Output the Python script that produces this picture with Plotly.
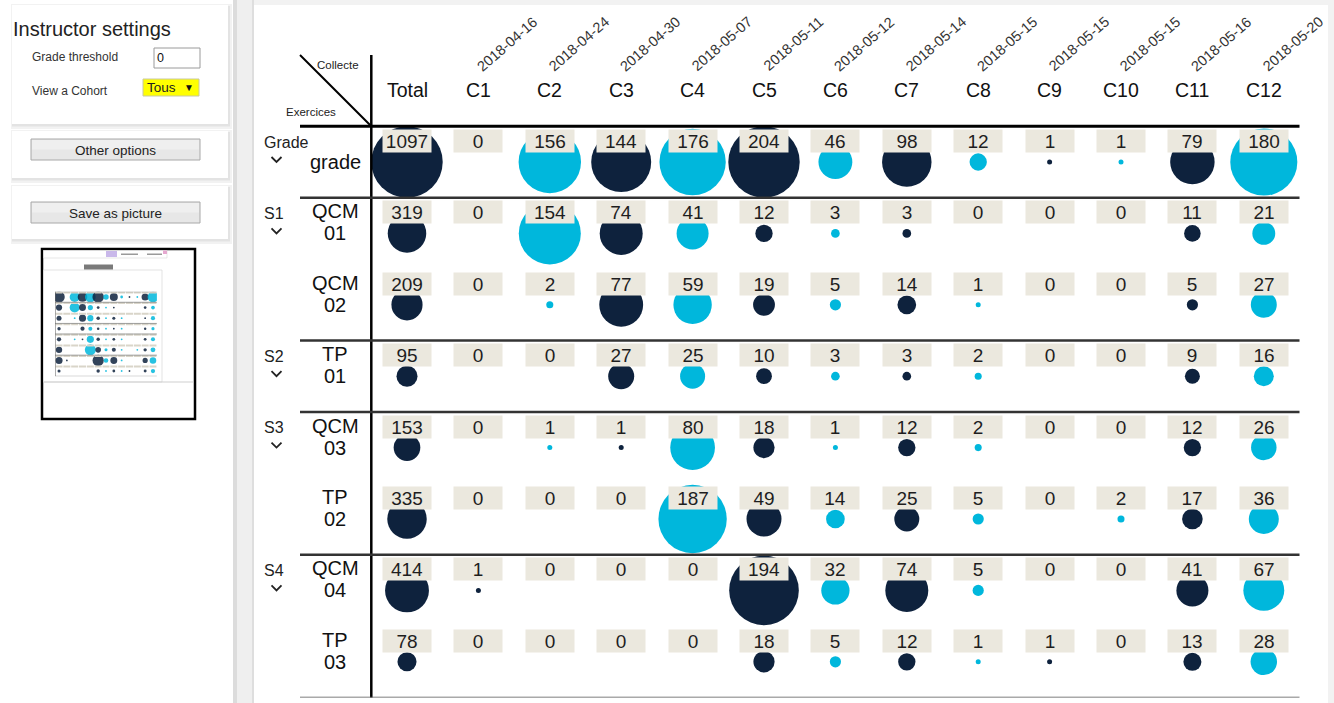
import math
import plotly.graph_objects as go

W, H = 1334, 703
FONT = "Liberation Sans"

# ---------------- data ----------------
columns = ["Total", "C1", "C2", "C3", "C4", "C5", "C6", "C7", "C8", "C9", "C10", "C11", "C12"]
dates = ["", "2018-04-16", "2018-04-24", "2018-04-30", "2018-05-07", "2018-05-11", "2018-05-12",
         "2018-05-14", "2018-05-15", "2018-05-15", "2018-05-15", "2018-05-16", "2018-05-20"]
row_keys = ["grade", "QCM01", "QCM02", "TP01", "QCM03", "TP02", "QCM04", "TP03"]
row_line1 = ["grade", "QCM", "QCM", "TP", "QCM", "TP", "QCM", "TP"]
row_line2 = ["", "01", "02", "01", "03", "02", "04", "03"]
group_labels = ["Grade", "S1", "", "S2", "S3", "", "S4", ""]

total = [1097, 319, 209, 95, 153, 335, 414, 78]
c1 = [0, 0, 0, 0, 0, 0, 1, 0]
c2 = [156, 154, 2, 0, 1, 0, 0, 0]
c3 = [144, 74, 77, 27, 1, 0, 0, 0]
c4 = [176, 41, 59, 25, 80, 187, 0, 0]
c5 = [204, 12, 19, 10, 18, 49, 194, 18]
c6 = [46, 3, 5, 3, 1, 14, 32, 5]
c7 = [98, 3, 14, 3, 12, 25, 74, 12]
c8 = [12, 0, 1, 2, 2, 5, 5, 1]
c9 = [1, 0, 0, 0, 0, 0, 0, 1]
c10 = [1, 0, 0, 0, 0, 2, 0, 0]
c11 = [79, 11, 5, 9, 12, 17, 41, 13]
c12 = [180, 21, 27, 16, 26, 36, 67, 28]
series = [total, c1, c2, c3, c4, c5, c6, c7, c8, c9, c10, c11, c12]

# ---------------- styling / layout constants ----------------
DARK = "#0e223d"
LIGHT = "#00b7dc"
LABEL_BG = "#ebe8de"
TXT = "#1e1e1e"

COL_X0, COL_W = 371.3, 71.4     # pixel grid of main bubble table
ROW_Y0, ROW_H = 126.3, 71.4
MAXD = 71.4                     # max bubble diameter

def px(xp):
    return xp / W

def py(yp):
    return 1 - yp / H

def row_center(i):
    return ROW_Y0 + (i + 0.5) * ROW_H

fig = go.Figure()

# bubbles (main table)
vmax_total = max(total)
vmax_c = max(max(s) for s in series[1:])
bx, by, bs, bc = [], [], [], []
for ci, (col, vals) in enumerate(zip(columns, series)):
    vmax = vmax_total if ci == 0 else vmax_c
    color = DARK if (ci == 0 or ci % 2 == 1) else LIGHT
    for ri, v in enumerate(vals):
        bx.append(col)
        by.append(row_keys[ri])
        bs.append(MAXD * math.sqrt(v / vmax) if v > 0 else 0)
        bc.append(color)

fig.add_trace(go.Scatter(
    x=bx, y=by, mode="markers", xaxis="x2", yaxis="y2",
    marker=dict(size=bs, sizemode="diameter", color=bc, line=dict(width=0), opacity=1),
    hoverinfo="skip", showlegend=False))

# mini thumbnail bubbles
mx, my, ms, mc = [], [], [], []
for ci, vals in enumerate(series):
    vmax = vmax_total if ci == 0 else vmax_c
    color = DARK if (ci == 0 or ci % 2 == 1) else LIGHT
    for ri, v in enumerate(vals):
        if v > 0:
            mx.append(ci)
            my.append(ri)
            ms.append(max(1.8, 11.5 * math.sqrt(v / vmax)))
            mc.append(color)
fig.add_trace(go.Scatter(
    x=mx, y=my, mode="markers", xaxis="x3", yaxis="y3",
    marker=dict(size=ms, sizemode="diameter", color=mc, line=dict(width=0), opacity=0.85),
    hoverinfo="skip", showlegend=False))
# mini value-label marks
lx, ly = [], []
for ci, vals in enumerate(series):
    for ri, v in enumerate(vals):
        lx.append(ci)
        ly.append(ri - 0.42)
fig.add_trace(go.Scatter(
    x=lx, y=ly, mode="markers", xaxis="x3", yaxis="y3",
    marker=dict(symbol="line-ew", size=5, line=dict(width=2, color="#d9d5c9")),
    hoverinfo="skip", showlegend=False))

shapes = []
ann = []

def rect(x0, y0, x1, y1, fill, line=None, lw=0, layer="below"):
    shapes.append(dict(type="rect", xref="x", yref="y", x0=x0, y0=y0, x1=x1, y1=y1,
                       fillcolor=fill, line=dict(color=line or fill, width=lw), layer=layer))

def line(x0, y0, x1, y1, color, width, layer="above", xref="x", yref="y"):
    shapes.append(dict(type="line", xref=xref, yref=yref, x0=x0, y0=y0, x1=x1, y1=y1,
                       line=dict(color=color, width=width), layer=layer))

def text(x, y, s, size, color=TXT, xanchor="center", **kw):
    ann.append(dict(xref="paper", yref="paper", x=px(x), y=py(y), text=s, showarrow=False,
                    xanchor=xanchor, yanchor="middle", font=dict(size=size, color=color, family=FONT), **kw))

# ---------- page background pieces ----------
rect(233, 0, 237, H, "#dcdcdc")
rect(237, 0, 252, H, "#efefef")
rect(252, 0, 254, H, "#dedede")
rect(254, 0, W, 5, "#f2f2f2")
rect(1328, 0, W, H, "#f2f2f2")

# ---------- left panels ----------
for (x0, y0, x1, y1) in [(12, 5, 228, 124), (12, 131, 228, 178), (12, 186, 228, 239)]:
    rect(x0 - 1, y0 - 1, x1 + 4, y1 + 5, "#f2f2f2")
    rect(x0, y0 + 1, x1 + 2, y1 + 2.5, "#e3e3e3")
    rect(x0, y0, x1, y1, "#ffffff")

text(11, 29, "Instructor settings", 20, "#222222", xanchor="left")
text(30, 57, "Grade threshold", 12, "#333333", xanchor="left")
rect(154, 48, 200, 68, "#ffffff", "#9a9a9a", 1)
text(155, 58, "0", 12.5, "#111111", xanchor="left")
text(30, 91, "View a Cohort", 12, "#333333", xanchor="left")
rect(143, 79, 199, 96, "#ffff00", "#c9c9a0", 1)
text(145, 87.5, "Tous", 13.5, "#222222", xanchor="left")
text(189, 87, "▼", 10, "#111111")

for (y0, y1, label) in [(139, 160, "Other options"), (202, 223, "Save as picture")]:
    rect(31, y0, 200, y1, "#e7e7e7", "#a8a8a8", 1)
    rect(32, y0 + 1, 199, (y0 + y1) / 2, "#efefef")
    text(115.5, (y0 + y1) / 2 + 0.5, label, 13.5, "#222222")

# ---------- thumbnail ----------
rect(42, 249, 195, 419, "#ffffff", "#000000", 2.5)
rect(43.5, 250.5, 167, 258, "#ffffff", "#d6d6d6", 0.6)
rect(106, 251, 117, 257, "#c9b8ea")
rect(121, 253.5, 138, 255, "#9a9a9a")
rect(147, 253.5, 162, 255, "#9a9a9a")
rect(163, 250.5, 167, 254, "#e6a8d0")
rect(43.5, 270, 162, 382, "#ffffff", "#dcdcdc", 0.8)
line(43.5, 382, 193.5, 382, "#cfcfcf", 1, layer="below")
rect(84, 264.5, 113, 269.5, "#7a7a7a")
for yv in [-0.5, 0.5, 2.5, 3.5, 5.5, 7.5]:
    line(-1.5, yv, 12.5, yv, "#8a8a8a", 0.8, layer="above", xref="x3", yref="y3")
line(-0.5, -1.6, -0.5, 7.5, "#555555", 0.9, layer="above", xref="x3", yref="y3")
line(-1.5, -1.6, -0.5, -0.5, "#777777", 0.6, layer="above", xref="x3", yref="y3")
for ci in range(len(columns)):
    line(ci - 0.25, -0.95, ci + 0.25, -0.95, "#666666", 1, layer="above", xref="x3", yref="y3")
    if dates[ci]:
        line(ci - 0.05, -1.2, ci + 0.7, -2.05, "#bbbbbb", 0.8, layer="above", xref="x3", yref="y3")

# ---------- main table lines ----------
top = ROW_Y0
bottom = ROW_Y0 + len(row_keys) * ROW_H
right = COL_X0 + len(columns) * COL_W
line(300, 55, COL_X0, top, "#000000", 2)
line(COL_X0, 55, COL_X0, bottom, "#000000", 2.5)
line(300, top, right, top, "#000000", 3)
for yi in [0.5, 2.5, 3.5, 5.5]:
    line(px(300), yi, px(right), yi, "#333333", 2.5, xref="paper", yref="y2")
line(px(300), 7.5, px(right), 7.5, "#555555", 1.5, xref="paper", yref="y2")

text(338, 65.5, "Collecte", 11.5, "#222222")
text(311, 112, "Exercices", 11.5, "#222222")

# column headers and dates
for ci, col in enumerate(columns):
    ann.append(dict(xref="x2", yref="paper", x=col, y=py(90), text=col, showarrow=False,
                    xanchor="center", yanchor="middle",
                    font=dict(size=19.5, color="#111111", family=FONT)))
    if dates[ci]:
        ann.append(dict(xref="x2", yref="paper", x=col, y=py(44), xshift=29, text=dates[ci],
                        showarrow=False, textangle=-41, xanchor="center", yanchor="middle",
                        font=dict(size=14.5, color="#333333", family=FONT)))

# row labels, group labels, chevrons
for ri, key in enumerate(row_keys):
    base = dict(xref="paper", yref="y2", x=px(335), y=key, showarrow=False,
                xanchor="center", yanchor="middle",
                font=dict(size=20, color="#111111", family=FONT))
    if row_line2[ri]:
        ann.append(dict(base, yshift=22, text=row_line1[ri]))
        ann.append(dict(base, yshift=0, text=row_line2[ri]))
    else:
        ann.append(dict(base, text=row_line1[ri]))
    if group_labels[ri]:
        ann.append(dict(xref="paper", yref="y2", x=px(262), y=key, yshift=20,
                        xanchor="left", yanchor="middle",
                        text=group_labels[ri], showarrow=False,
                        font=dict(size=16, color="#222222", family=FONT)))
        yc = row_center(ri)
        shapes.append(dict(type="path", xref="x", yref="y",
                           path=f"M 271.5 {yc-5:.1f} L 276.5 {yc:.1f} L 281.5 {yc-5:.1f}",
                           line=dict(color="#222222", width=1.8), layer="above"))

# value labels
for ci, (col, vals) in enumerate(zip(columns, series)):
    for ri, v in enumerate(vals):
        ann.append(dict(xref="x2", yref="y2", x=col, y=row_keys[ri], yshift=21, text=str(v),
                        showarrow=False, bgcolor=LABEL_BG, width=46, height=20,
                        xanchor="center", yanchor="middle",
                        font=dict(size=19, color=TXT, family=FONT)))

hidden = dict(visible=False, showgrid=False, zeroline=False, fixedrange=True)
fig.update_layout(
    width=W, height=H, margin=dict(l=0, r=0, t=0, b=0),
    paper_bgcolor="#ffffff", plot_bgcolor="rgba(0,0,0,0)",
    font=dict(family=FONT, color=TXT),
    showlegend=False,
    xaxis=dict(range=[0, W], domain=[0, 1], **hidden),
    yaxis=dict(range=[H, 0], domain=[0, 1], **hidden),
    xaxis2=dict(type="category", categoryorder="array", categoryarray=columns,
                range=[-0.5, len(columns) - 0.5], anchor="y2",
                domain=[px(COL_X0), px(right)], **hidden),
    yaxis2=dict(type="category", categoryorder="array", categoryarray=row_keys,
                range=[len(row_keys) - 0.5, -0.5], anchor="x2",
                domain=[py(bottom), py(top)], **hidden),
    xaxis3=dict(range=[-0.5, 12.5], anchor="y3", domain=[px(55.1), px(156.9)], **hidden),
    yaxis3=dict(range=[7.5, -0.5], anchor="x3", domain=[py(376.3), py(291.7)], **hidden),
    shapes=shapes, annotations=ann,
)

fig.write_html("out.html", config={"displayModeBar": False},
               post_script="document.body.style.margin='0';document.body.style.overflow='hidden';")
